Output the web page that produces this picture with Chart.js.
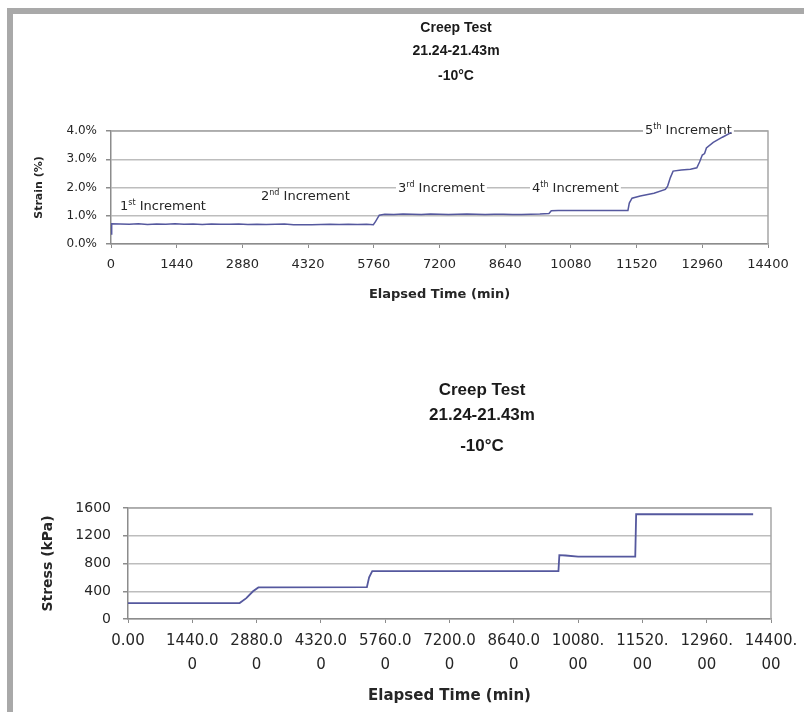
<!DOCTYPE html>
<html>
<head>
<meta charset="utf-8">
<script src="https://cdn.jsdelivr.net/npm/chart.js@4.4.1/dist/chart.umd.min.js"></script>
<style>
  html, body { margin: 0; padding: 0; background: #fff; }
  body { width: 804px; height: 712px; position: relative; overflow: hidden; }
  #frame { position: absolute; left: 7px; top: 8px; right: 0; bottom: 0;
           border-top: 6px solid #a9a9a9; border-left: 6px solid #a9a9a9; }
  .wrap { position: absolute; left: 0; width: 804px; }
  #strainWrap { top: 0; height: 320px; }
  #stressWrap { top: 320px; height: 392px; }
</style>
</head>
<body>
<div id="frame"></div>
<div class="wrap" id="strainWrap"><canvas id="strainChart" width="804" height="320"></canvas></div>
<div class="wrap" id="stressWrap"><canvas id="stressChart" width="804" height="392"></canvas></div>
<script>
// ── Data ─────────────────────────────────────────────────────────────
var TITLE_LINES = ['Creep Test', '21.24-21.43m', '-10°C'];

var TIME_MIN = 0, TIME_MAX = 14400, TIME_STEP = 1440;
var STRAIN_TICKS = [0, 1, 2, 3, 4];          // %
var STRESS_TICKS = [0, 400, 800, 1200, 1600]; // kPa

// strain (%) vs elapsed time (min)
var STRAIN_T = [0, 15, 200, 400, 600, 800, 1000, 1200, 1400, 1600, 1800, 2000, 2200, 2400, 2600, 2800,
  3000, 3200, 3400, 3600, 3800, 4000, 4200, 4400, 4600, 4800, 5000, 5200, 5400, 5600, 5750, 5800, 5880,
  6000, 6200, 6400, 6600, 6800, 7000, 7200, 7400, 7600, 7800, 8000, 8200, 8400, 8600, 8800, 9000, 9200,
  9400, 9600, 9650, 9800, 10200, 10600, 11000, 11330, 11360, 11420, 11600, 11900, 12150, 12200, 12260,
  12320, 12500, 12700, 12840, 12900, 12960, 13010, 13050, 13200, 13400, 13600];
var STRAIN_V = [0.35, 0.72, 0.71, 0.70, 0.72, 0.69, 0.71, 0.70, 0.72, 0.70, 0.71, 0.69, 0.71, 0.70, 0.70, 0.71,
  0.69, 0.70, 0.69, 0.70, 0.71, 0.68, 0.68, 0.68, 0.69, 0.70, 0.69, 0.70, 0.69, 0.70, 0.68, 0.80, 1.02,
  1.05, 1.04, 1.06, 1.05, 1.04, 1.06, 1.05, 1.04, 1.05, 1.06, 1.05, 1.04, 1.05, 1.05, 1.04, 1.04, 1.05,
  1.06, 1.08, 1.18, 1.19, 1.19, 1.19, 1.19, 1.19, 1.45, 1.62, 1.70, 1.80, 1.93, 2.05, 2.35,
  2.58, 2.62, 2.65, 2.70, 2.90, 3.15, 3.20, 3.40, 3.60, 3.78, 3.95];

// stress (kPa) vs elapsed time (min)
var STRESS_T = [0, 2500, 2650, 2800, 2920, 5350, 5400, 5470, 9640, 9660, 9800, 10080, 11360, 11380, 14000];
var STRESS_V = [230, 230, 300, 400, 455, 460, 600, 690, 690, 920, 915, 900, 900, 1510, 1510];

// load increment notes on the strain chart (time, strain at label centre)
var INC_NUM = ['1', '2', '3', '4', '5'];
var INC_SUP = ['st', 'nd', 'rd', 'th', 'th'];
var INC_T = [197, 3288, 6290, 9227, 11704];
var INC_Y = [1.31, 1.66, 1.95, 1.95, 4.0];

// ── Helpers ──────────────────────────────────────────────────────────
var LINE_COLOR = '#55589e';
var GRID_COLOR = '#bdbdbd';
var AXIS_COLOR = '#8c8c8c';
var TEXT_COLOR = '#262626';

Chart.defaults.font.family = "'DejaVu Sans', sans-serif";
Chart.defaults.color = TEXT_COLOR;

function _points(ts, vs) {
  return ts.map(function (t, i) { return { x: t, y: vs[i] }; });
}

// titles drawn above the plot area
var headingPlugin = {
  id: 'heading',
  afterDraw: function (chart, args, opts) {
    var ctx = chart.ctx;
    ctx.save();
    ctx.fillStyle = '#1a1a1a';
    ctx.font = opts.font;
    ctx.textAlign = 'center';
    ctx.textBaseline = 'middle';
    TITLE_LINES.forEach(function (t, i) { ctx.fillText(t, opts.x, opts.y[i]); });
    ctx.restore();
  }
};

// grey border round the plot area (Excel style)
var framePlugin = {
  id: 'frame',
  beforeDatasetsDraw: function (chart) {
    var a = chart.chartArea, ctx = chart.ctx;
    ctx.save();
    ctx.strokeStyle = '#a6a6a6';
    ctx.lineWidth = 1.5;
    ctx.beginPath();
    ctx.moveTo(a.left, a.top);
    ctx.lineTo(a.right, a.top);
    ctx.lineTo(a.right, a.bottom);
    ctx.stroke();
    ctx.restore();
  }
};

// "1st Increment" etc. placed in data units
var incrementPlugin = {
  id: 'increments',
  beforeDatasetsDraw: function (chart) {
    var ctx = chart.ctx, xs = chart.scales.x, ys = chart.scales.y;
    var big = "13px 'DejaVu Sans'", small = "8px 'DejaVu Sans'";
    ctx.save();
    ctx.textBaseline = 'middle';
    ctx.textAlign = 'left';
    INC_NUM.forEach(function (n, i) {
      var x = xs.getPixelForValue(INC_T[i]);
      var y = ys.getPixelForValue(INC_Y[i]);
      ctx.font = big;
      var w1 = ctx.measureText(n).width;
      var w3 = ctx.measureText(' Increment').width;
      ctx.font = small;
      var w2 = ctx.measureText(INC_SUP[i]).width;
      ctx.fillStyle = '#fff';
      ctx.fillRect(x - 2, y - 8, w1 + w2 + w3 + 4, 16);
      ctx.fillStyle = TEXT_COLOR;
      ctx.font = big;
      ctx.fillText(n, x, y);
      ctx.font = small;
      ctx.fillText(INC_SUP[i], x + w1, y - 4);
      ctx.font = big;
      ctx.fillText(' Increment', x + w1 + w2, y);
    });
    ctx.restore();
  }
};

function _fixWidth(w) { return function (s) { s.width = w; }; }
function _fixHeight(h) {
  return function (s) { s.height = h; s.paddingLeft = 0; s.paddingRight = 0; };
}

// ── Strain chart ─────────────────────────────────────────────────────
new Chart(document.getElementById('strainChart'), {
  type: 'scatter',
  data: {
    datasets: [{
      data: _points(STRAIN_T, STRAIN_V),
      showLine: true,
      borderColor: LINE_COLOR,
      borderWidth: 1.5,
      pointRadius: 0,
      tension: 0
    }]
  },
  options: {
    responsive: false,
    animation: false,
    layout: { padding: { top: 131, right: 36, left: 0, bottom: 0 } },
    plugins: {
      legend: { display: false },
      tooltip: { enabled: false },
      heading: { font: "bold 14px 'Liberation Sans'", x: 456, y: [28, 51, 76] }
    },
    scales: {
      x: {
        type: 'linear', min: TIME_MIN, max: TIME_MAX,
        afterFit: _fixHeight(76),
        ticks: {
          stepSize: TIME_STEP, autoSkip: false, maxRotation: 0, minRotation: 0,
          padding: 9, font: { size: 13 },
          callback: function (v) { return String(v); }
        },
        grid: { drawOnChartArea: false, drawTicks: true, tickLength: 4, tickColor: AXIS_COLOR },
        border: { color: AXIS_COLOR, width: 1.5 },
        title: { display: true, text: 'Elapsed Time (min)', font: { size: 13, weight: 'bold' },
                 padding: { top: 0, bottom: 18 } }
      },
      y: {
        min: 0, max: 4,
        afterFit: _fixWidth(111),
        afterBuildTicks: function (s) { s.ticks = STRAIN_TICKS.map(function (v) { return { value: v }; }); },
        ticks: {
          padding: 9, font: { size: 12 },
          callback: function (v) { return v.toFixed(1) + '%'; }
        },
        grid: { color: GRID_COLOR, lineWidth: 1.5, tickLength: 5, tickColor: AXIS_COLOR },
        border: { color: AXIS_COLOR, width: 1.5 },
        title: { display: true, text: 'Strain (%)', font: { size: 11, weight: 'bold' },
                 padding: { top: 33, bottom: 0 } }
      }
    }
  },
  plugins: [headingPlugin, framePlugin, incrementPlugin]
});

// ── Stress chart ─────────────────────────────────────────────────────
new Chart(document.getElementById('stressChart'), {
  type: 'scatter',
  data: {
    datasets: [{
      data: _points(STRESS_T, STRESS_V),
      showLine: true,
      borderColor: LINE_COLOR,
      borderWidth: 1.8,
      pointRadius: 0,
      tension: 0
    }]
  },
  options: {
    responsive: false,
    animation: false,
    layout: { padding: { top: 188, right: 33, left: 0, bottom: 0 } },
    plugins: {
      legend: { display: false },
      tooltip: { enabled: false },
      heading: { font: "bold 17px 'Liberation Sans'", x: 482, y: [70, 95, 126] }
    },
    scales: {
      x: {
        type: 'linear', min: TIME_MIN, max: TIME_MAX,
        afterFit: _fixHeight(93),
        ticks: {
          stepSize: TIME_STEP, autoSkip: false, maxRotation: 0, minRotation: 0,
          padding: 6, font: { size: 15, lineHeight: 1.6 },
          callback: function (v) {
            var s = Number(v).toFixed(2);
            return s.length > 6 ? [s.slice(0, 6), s.slice(6)] : s;
          }
        },
        grid: { drawOnChartArea: false, drawTicks: true, tickLength: 4, tickColor: AXIS_COLOR },
        border: { color: AXIS_COLOR, width: 1.5 },
        title: { display: true, text: 'Elapsed Time (min)', font: { size: 15, weight: 'bold' },
                 padding: { top: 0, bottom: 7 } }
      },
      y: {
        min: 0, max: 1600,
        afterFit: _fixWidth(128),
        afterBuildTicks: function (s) { s.ticks = STRESS_TICKS.map(function (v) { return { value: v }; }); },
        ticks: { padding: 12, font: { size: 14 }, callback: function (v) { return String(v); } },
        grid: { color: GRID_COLOR, lineWidth: 1.5, tickLength: 5, tickColor: AXIS_COLOR },
        border: { color: AXIS_COLOR, width: 1.5 },
        title: { display: true, text: 'Stress (kPa)', font: { size: 14, weight: 'bold' },
                 padding: { top: 40, bottom: 0 } }
      }
    }
  },
  plugins: [headingPlugin, framePlugin]
});
</script>
</body>
</html>
